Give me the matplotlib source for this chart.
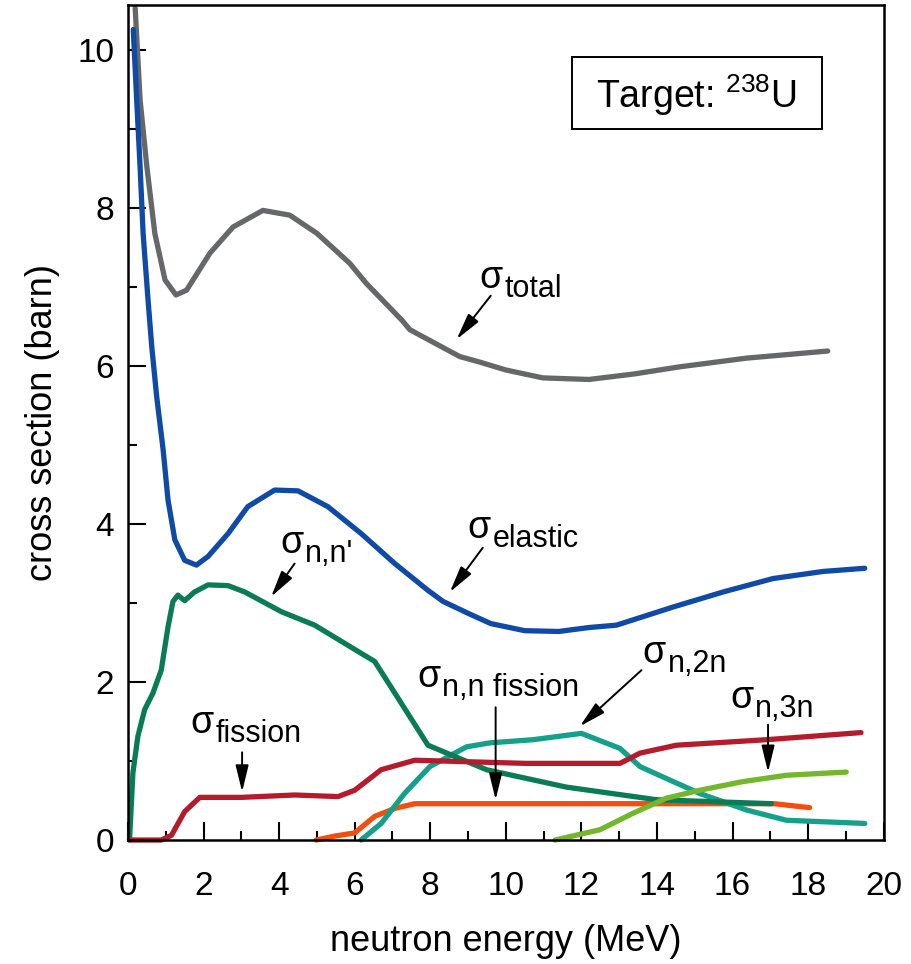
import matplotlib
matplotlib.use("Agg")
import matplotlib.pyplot as plt
from matplotlib.patches import Rectangle
from matplotlib.ticker import MultipleLocator
from matplotlib.transforms import offset_copy

plt.rcParams['font.family'] = ['Liberation Sans', 'DejaVu Sans']
plt.rcParams['mathtext.fontset'] = 'custom'
plt.rcParams['mathtext.rm'] = 'Liberation Sans'

# neutron energy (MeV) / cross section (barn) for n + 238U
total_e = [0.19, 0.32, 0.5, 0.71, 0.98, 1.27, 1.55, 2.17, 2.78, 3.57, 4.28, 5.0, 5.87,
           6.3, 7.25, 7.46, 8.78, 9.31, 10.0, 10.98, 12.2, 13.4, 14.6, 16.37, 18.52]
total_s = [10.53, 9.37, 8.52, 7.68, 7.09, 6.9, 6.96, 7.43, 7.76, 7.97, 7.91, 7.68, 7.30,
           7.05, 6.58, 6.46, 6.12, 6.05, 5.95, 5.85, 5.83, 5.9, 5.99, 6.10, 6.19]

elastic_e = [0.14, 0.23, 0.32, 0.40, 0.53, 0.63, 0.76, 0.93, 1.06, 1.24, 1.5, 1.81, 2.12,
             2.65, 3.17, 3.88, 4.5, 5.29, 6.17, 7.06, 7.94, 8.34, 9.0, 9.6, 10.5, 11.4,
             12.2, 12.93, 14.43, 15.75, 17.07, 18.4, 19.5]
elastic_s = [10.26, 9.37, 8.52, 7.68, 6.84, 6.24, 5.61, 4.94, 4.30, 3.80, 3.54, 3.48, 3.59,
             3.88, 4.22, 4.43, 4.42, 4.22, 3.88, 3.50, 3.16, 3.02, 2.87, 2.74, 2.65, 2.64,
             2.69, 2.72, 2.95, 3.14, 3.31, 3.40, 3.44]

inel_e = [0.04, 0.13, 0.26, 0.44, 0.66, 0.88, 1.06, 1.19, 1.32, 1.5, 1.76, 2.12, 2.65,
          3.09, 4.06, 4.94, 6.53, 7.94, 9.49, 11.6, 13.99, 17.03]
inel_s = [0, 0.85, 1.31, 1.65, 1.86, 2.15, 2.70, 3.02, 3.10, 3.03, 3.14, 3.23, 3.22,
          3.14, 2.89, 2.72, 2.26, 1.20, 0.89, 0.67, 0.51, 0.46]

fission_e = [0.04, 0.88, 1.15, 1.5, 1.9, 3.0, 4.41, 5.56, 6.0, 6.7, 7.59, 10.55, 13.02,
             13.55, 14.51, 16.9, 19.4]
fission_s = [0, 0, 0.06, 0.36, 0.54, 0.54, 0.57, 0.55, 0.63, 0.89, 1.01, 0.97, 0.97,
             1.10, 1.20, 1.27, 1.36]

n2n_e = [6.17, 6.7, 7.32, 7.99, 8.96, 9.58, 10.72, 12.0, 13.02, 13.55, 14.43, 15.13,
         16.37, 17.43, 19.5]
n2n_s = [0, 0.21, 0.59, 0.93, 1.18, 1.23, 1.27, 1.35, 1.16, 0.93, 0.74, 0.59,
         0.38, 0.25, 0.21]

nnf_e = [4.98, 5.47, 6.0, 6.53, 7.06, 7.59, 17.1, 18.04]
nnf_s = [0, 0.05, 0.09, 0.30, 0.40, 0.46, 0.46, 0.41]

n3n_e = [11.3, 12.49, 13.37, 14.25, 15.13, 16.28, 17.43, 19.01]
n3n_s = [0, 0.13, 0.34, 0.53, 0.63, 0.74, 0.82, 0.86]

fig = plt.figure(figsize=(9.11, 9.64), dpi=100)
ax = fig.add_axes([0.1405, 0.1286, 0.8295, 0.8662])

lw = 3.8
style = dict(lw=lw, solid_capstyle='round', solid_joinstyle='round', clip_on=False)
ax.plot(total_e, total_s, color='#646868', **style)
ax.plot(elastic_e, elastic_s, color='#0f4aa6', **style)
ax.plot(nnf_e, nnf_s, color='#f04f0f', **style)
ax.plot(n2n_e, n2n_s, color='#14a08a', **style)
ax.plot(inel_e, inel_s, color='#0a7c55', **style)
ax.plot(fission_e, fission_s, color='#b41c2e', **style)
ax.plot(n3n_e, n3n_s, color='#74b72c', **style)

ax.set_xlim(0, 20)
ax.set_ylim(0, 10.57)
ax.xaxis.set_major_locator(MultipleLocator(2))
ax.xaxis.set_minor_locator(MultipleLocator(1))
ax.yaxis.set_major_locator(MultipleLocator(2))
ax.yaxis.set_minor_locator(MultipleLocator(1))
ax.tick_params(which='both', direction='in', width=1.5, colors='black')
ax.tick_params(which='major', length=13)
ax.tick_params(which='minor', length=6.5)
ax.tick_params(axis='x', which='major', labelsize=24, pad=22)
ax.tick_params(axis='y', which='major', labelsize=24, pad=10)
for sp in ax.spines.values():
    sp.set_linewidth(1.8)

ax.set_xlabel('neutron energy (MeV)', fontsize=26, labelpad=16)
ax.set_ylabel('cross section (barn)', fontsize=26, labelpad=12)

# sigma labels: a sigma followed by a full-size, lowered subscript
fig.canvas.draw()
renderer = fig.canvas.get_renderer()


def sigma_label(x, y, sub):
    s = ax.text(x, y, 'σ', fontsize=27, ha='left', va='baseline')
    bb = s.get_window_extent(renderer)
    x_right = (bb.x1 - ax.transData.transform((x, y))[0]) * 72 / fig.dpi
    trans = offset_copy(ax.transData, fig=fig, x=x_right + 1.5, y=-6.5, units='points')
    ax.text(x, y, sub, fontsize=22, ha='left', va='baseline', transform=trans)


def arrow(tail, head):
    ax.annotate('', xy=head, xytext=tail,
                arrowprops=dict(arrowstyle='-|>,head_length=0.9,head_width=0.22',
                                lw=1.4, color='black', shrinkA=0, shrinkB=0,
                                mutation_scale=18))


sigma_label(9.29, 6.99, 'total')
arrow((9.60, 6.89), (8.70, 6.34))
sigma_label(8.99, 3.82, 'elastic')
arrow((9.39, 3.70), (8.52, 3.14))
sigma_label(4.02, 3.63, "n,n'")
arrow((4.41, 3.50), (3.79, 3.08))
sigma_label(1.64, 1.35, 'fission')
arrow((3.02, 1.11), (3.02, 0.61))
sigma_label(7.65, 1.94, 'n,n fission')
arrow((9.73, 1.68), (9.73, 0.51))
sigma_label(13.62, 2.24, 'n,2n')
arrow((13.59, 2.15), (11.96, 1.44))
sigma_label(15.93, 1.67, 'n,3n')
arrow((16.94, 1.46), (16.94, 0.86))

# target box
ax.add_patch(Rectangle((0.587, 0.8515), 0.331, 0.0862, transform=ax.transAxes,
                       facecolor='white', edgecolor='black', lw=1.4, zorder=5))
ax.text(0.7525, 0.892, r'Target: $^{238}$U', fontsize=27, ha='center', va='center',
        transform=ax.transAxes, zorder=6)

fig.savefig('out.png', dpi=100)
